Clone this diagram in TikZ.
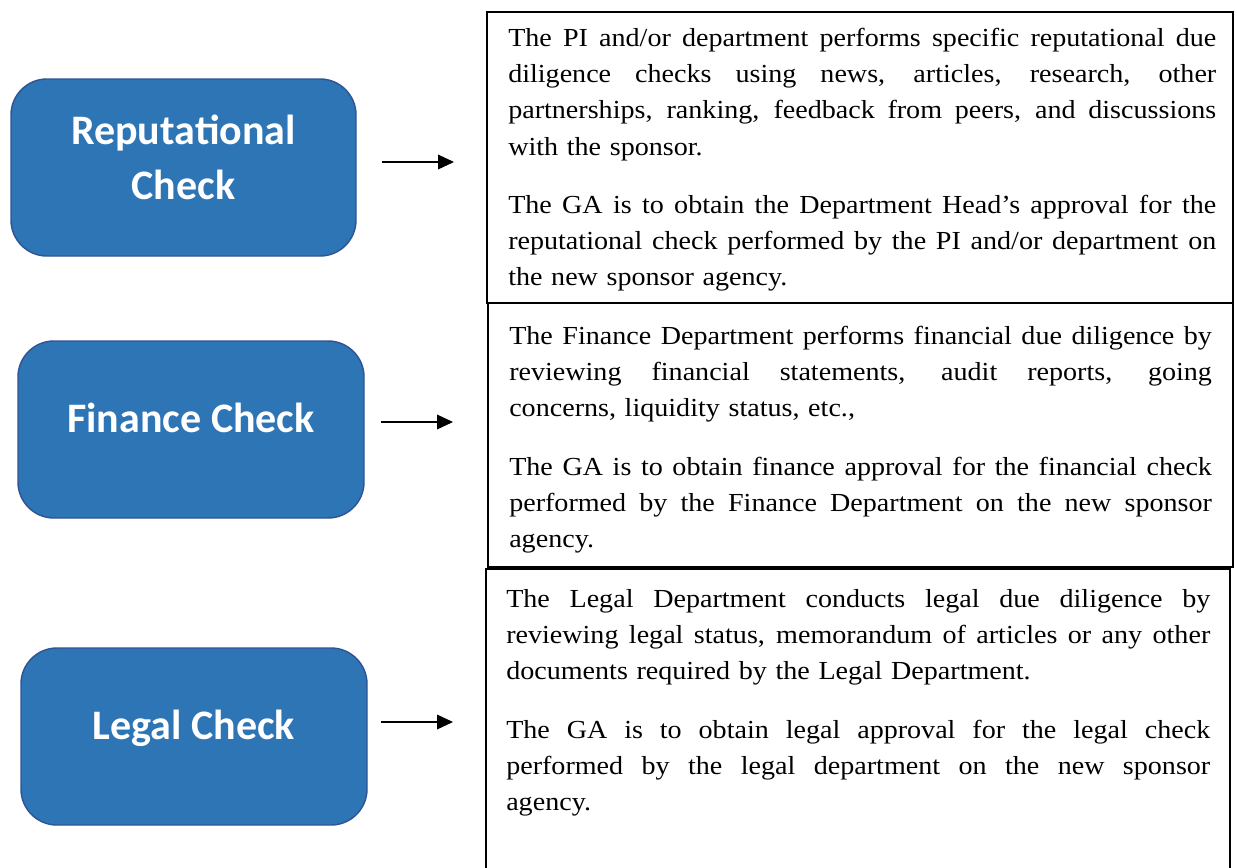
\documentclass[tikz,border=0pt]{standalone}
\usepackage{fontspec}
\setmainfont{Liberation Serif}[FakeStretch=1.08]
\newfontfamily\checkfont{Carlito}
\usetikzlibrary{arrows.meta,fit}

\definecolor{checkfill}{HTML}{2E75B6}
\definecolor{checkedge}{HTML}{2F5597}

% width of the current description block
\newdimen\descw
% one justified line, and one last (ragged) line of a paragraph
\newcommand\jline[1]{\noindent\hbox to\descw{\spaceskip=\fontdimen2\font plus 1fil\relax #1}\par}
\newcommand\lline[1]{\noindent #1\par}
\newcommand\paragap{\vspace{16.5pt}}

\tikzset{
  checkbox/.style={rectangle, rounded corners=27pt, fill=checkfill, draw=checkedge,
    line width=1.1pt, minimum height=132.75pt, inner sep=0pt},
  checktext/.style={text=white, align=center, inner sep=0pt,
    font=\checkfont\bfseries\fontsize{31.5pt}{41pt}\selectfont},
  descbox/.style={draw=black, line width=1.4pt, inner sep=0pt, fill=none},
  desctext/.style={anchor=north west, inner sep=0pt, text width=#1,
    execute at begin node={\global\descw=#1\relax},
    font=\fontsize{19.5pt}{27.2pt}\selectfont},
  linkarrow/.style={draw=black, line width=1pt,
    -{Triangle[length=12pt,width=11pt]}}
}

\begin{document}
\begin{tikzpicture}[x=0.75pt,y=-0.75pt]
\useasboundingbox (0,0) rectangle (1237,867);
\clip (0,0) rectangle (1237,867);
\fill[white] (0,0) rectangle (1237,867);

% corner points of the three description frames
\coordinate (d1nw) at (487,12);   \coordinate (d1se) at (1233,303);
\coordinate (d2nw) at (488,303);  \coordinate (d2se) at (1233,567);
\coordinate (d3nw) at (486,569);  \coordinate (d3se) at (1230,890);

\node[descbox, fit=(d1nw)(d1se)] (d1) {};
\node[descbox, fit=(d2nw)(d2se)] (d2) {};
\node[descbox, fit=(d3nw)(d3se)] (d3) {};

% rounded check boxes
\node[checkbox, minimum width=258.75pt] (r1) at (183.5,167.5) {};
\node[checkbox, minimum width=259.5pt]  (r2) at (191,429.5) {};
\node[checkbox, minimum width=259.5pt]  (r3) at (194,736.5) {};

\node[checktext] (r1t) at ([yshift=7.5pt]r1.center) {Reputational\\Check};
\node[checktext] (r2t) at ([yshift=8.5pt]r2.center) {Finance Check};
\node[checktext] (r3t) at ([yshift=6.5pt]r3.center) {Legal Check};

% arrows between the check boxes and the descriptions
\coordinate (a1s) at (382,162); \coordinate (a1e) at (454,162);
\coordinate (a2s) at (381,422); \coordinate (a2e) at (453,422);
\coordinate (a3s) at (381,722); \coordinate (a3e) at (453,722);
\draw[linkarrow] (a1s) -- (a1e);
\draw[linkarrow] (a2s) -- (a2e);
\draw[linkarrow] (a3s) -- (a3e);

% description texts
\node[desctext=531pt] (t1) at (508,20.6) {%
\jline{\strut The PI and/or department performs specific reputational due}
\jline{diligence checks using news, articles, research, other}
\jline{partnerships, ranking, feedback from peers, and discussions}
\lline{with the sponsor.}
\paragap
\jline{The GA is to obtain the Department Head’s approval for the}
\jline{reputational check performed by the PI and/or department on}
\lline{the new sponsor agency.}};

\node[desctext=527pt] (t2) at (509,318.6) {%
\jline{\strut The Finance Department performs financial due diligence by}
\jline{reviewing financial statements, audit reports, going}
\lline{concerns, liquidity status, etc.,}
\paragap
\jline{The GA is to obtain finance approval for the financial check}
\jline{performed by the Finance Department on the new sponsor}
\lline{agency.}};

\node[desctext=528pt] (t3) at (506,581.6) {%
\jline{\strut The Legal Department conducts legal due diligence by}
\jline{reviewing legal status, memorandum of articles or any other}
\lline{documents required by the Legal Department.}
\paragap
\jline{The GA is to obtain legal approval for the legal check}
\jline{performed by the legal department on the new sponsor}
\lline{agency.}};
\end{tikzpicture}
\end{document}
